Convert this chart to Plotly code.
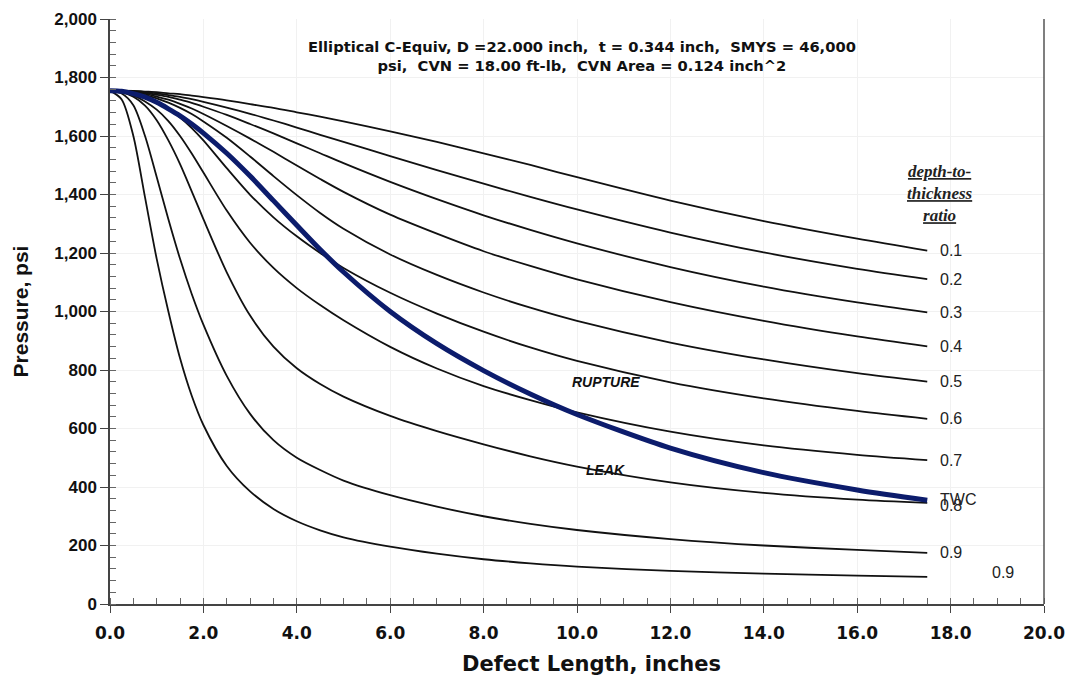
import plotly.graph_objects as go

# ---------------- data ----------------
defect_length = [0, 0.25, 0.5, 0.75, 1, 1.25, 1.5, 1.75, 2, 2.5, 3, 3.5, 4, 4.5, 5, 6, 7, 8, 9, 10, 12, 14, 16, 17.5]

ratio_labels = ["0.1", "0.2", "0.3", "0.4", "0.5", "0.6", "0.7", "0.8", "0.9", "0.9"]

p_01 = [1755, 1755, 1754, 1752, 1750, 1746, 1743, 1738, 1733, 1722, 1709, 1696, 1681, 1666, 1650, 1616, 1580, 1541, 1501, 1459, 1379, 1309, 1249, 1208]
p_02 = [1755, 1754, 1753, 1750, 1746, 1740, 1734, 1726, 1717, 1697, 1676, 1653, 1629, 1604, 1580, 1531, 1483, 1437, 1392, 1349, 1270, 1202, 1146, 1111]
p_03 = [1755, 1754, 1752, 1747, 1741, 1734, 1724, 1713, 1700, 1672, 1641, 1609, 1575, 1541, 1507, 1443, 1384, 1329, 1279, 1233, 1152, 1085, 1031, 997]
p_04 = [1755, 1754, 1750, 1744, 1735, 1724, 1710, 1694, 1675, 1634, 1591, 1546, 1499, 1453, 1409, 1331, 1266, 1206, 1156, 1110, 1032, 968, 915, 881]
p_05 = [1755, 1753, 1748, 1740, 1729, 1714, 1696, 1675, 1650, 1594, 1530, 1463, 1398, 1337, 1283, 1195, 1125, 1065, 1013, 968, 894, 836, 789, 760]
p_06 = [1755, 1753, 1745, 1733, 1715, 1692, 1663, 1627, 1585, 1490, 1399, 1322, 1257, 1200, 1149, 1064, 993, 931, 877, 831, 758, 703, 660, 633]
p_07 = [1755, 1751, 1739, 1718, 1690, 1651, 1600, 1540, 1475, 1345, 1235, 1149, 1080, 1022, 970, 879, 805, 745, 697, 655, 589, 542, 510, 492]
p_08 = [1755, 1750, 1734, 1704, 1654, 1585, 1504, 1411, 1316, 1134, 986, 880, 806, 752, 709, 643, 591, 546, 505, 470, 416, 380, 357, 346]
p_09 = [1755, 1745, 1705, 1600, 1460, 1315, 1180, 1060, 955, 780, 650, 560, 500, 458, 422, 372, 333, 300, 274, 253, 222, 200, 185, 175]
p_095 = [1755, 1725, 1600, 1390, 1180, 1000, 840, 712, 612, 472, 385, 325, 283, 252, 228, 196, 172, 153, 139, 128, 113, 104, 97, 93]

p_twc = [1755, 1753, 1745, 1733, 1715, 1693, 1669, 1641, 1610, 1541, 1463, 1379, 1295, 1212, 1135, 1000, 890, 798, 718, 648, 533, 449, 390, 355]

thin_series = [p_01, p_02, p_03, p_04, p_05, p_06, p_07, p_08, p_09, p_095]

x_ticks = [0, 2, 4, 6, 8, 10, 12, 14, 16, 18, 20]
y_ticks = [0, 200, 400, 600, 800, 1000, 1200, 1400, 1600, 1800, 2000]

title_text = ("Elliptical C-Equiv, D =22.000 inch,  t = 0.344 inch,  SMYS = 46,000<br>"
              "psi,  CVN = 18.00 ft-lb,  CVN Area = 0.124 inch^2")

# ---------------- figure ----------------
fig = go.Figure()

for ys, lab in zip(thin_series, ratio_labels):
    fig.add_trace(go.Scatter(
        x=defect_length, y=ys, mode="lines", name=lab,
        line=dict(color="#111111", width=1.8, shape="spline", smoothing=0.8),
        showlegend=False))

fig.add_trace(go.Scatter(
    x=defect_length, y=p_twc, mode="lines", name="TWC",
    line=dict(color="#0c1c6c", width=5, shape="spline", smoothing=0.8),
    showlegend=False))

label_font = dict(family="Liberation Sans, Arial, sans-serif", size=16, color="#222222")

# end-of-line labels
for i, (ys, lab) in enumerate(zip(thin_series, ratio_labels)):
    if i == len(thin_series) - 1:
        fig.add_annotation(x=18.85, y=ys[-1] + 14, text=lab, showarrow=False,
                           xanchor="left", yanchor="middle", font=label_font)
    else:
        fig.add_annotation(x=17.72, y=ys[-1] - (10 if lab == "0.8" else 0), text=lab,
                           showarrow=False, xanchor="left", yanchor="middle", font=label_font)

fig.add_annotation(x=17.72, y=p_twc[-1] + 2, text="TWC", showarrow=False,
                   xanchor="left", yanchor="middle", font=label_font)

# header of labels
fig.add_annotation(x=17.77, y=1404, text="depth-to-<br>thickness<br>ratio", showarrow=False,
                   xanchor="center", yanchor="middle", align="center",
                   font=dict(family="Liberation Serif, Times New Roman, serif", size=17,
                             color="#222222", style="italic", weight="bold",
                             lineposition="under"))

fig.add_annotation(x=10.62, y=759, text="<b><i>RUPTURE</i></b>", showarrow=False,
                   font=dict(family="Liberation Sans, Arial, sans-serif", size=14, color="#111111"))
fig.add_annotation(x=10.62, y=458, text="<b><i>LEAK</i></b>", showarrow=False,
                   font=dict(family="Liberation Sans, Arial, sans-serif", size=14, color="#111111"))

fig.add_annotation(xref="paper", yref="paper", x=0.505, y=0.936, text=title_text,
                   showarrow=False, align="center", xanchor="center", yanchor="middle",
                   font=dict(family="DejaVu Sans, sans-serif",
                             size=14.7, color="#111111", weight="bold"))

# x axis title placed as in the reference (slightly right of centre)
fig.add_annotation(xref="paper", yref="paper", x=0.515, y=-0.102, text="Defect Length, inches",
                   showarrow=False, xanchor="center", yanchor="middle",
                   font=dict(family="DejaVu Sans, sans-serif", size=21,
                             color="#111111", weight="bold"))

# right border of plot area
fig.add_shape(type="line", xref="paper", yref="paper", x0=1, x1=1, y0=0, y1=1,
              line=dict(color="#555555", width=1.5))

fig.update_layout(
    width=1068, height=677,
    margin=dict(l=110, r=24, t=19, b=73, autoexpand=False),
    paper_bgcolor="white", plot_bgcolor="white",
)

fig.update_xaxes(
    range=[0, 20], tickvals=x_ticks, ticktext=[f"{v:.1f}" for v in x_ticks],
    ticks="outside", ticklen=7, tickwidth=1.2, tickcolor="#444444",
    showline=True, linecolor="#444444", linewidth=1.5, automargin=False,
    showgrid=True, gridcolor="#f1f1f1", gridwidth=1, zeroline=False,
    minor=dict(dtick=0.5, ticks="inside", ticklen=6, tickcolor="#666666", showgrid=False),
    tickfont=dict(family="DejaVu Sans, sans-serif", size=17,
                  color="#111111", weight="bold"),
    ticklabelstandoff=6,
)

fig.update_yaxes(
    range=[0, 2000], tickvals=y_ticks, ticktext=[f"{v:,}" for v in y_ticks],
    ticks="outside", ticklen=8, tickwidth=1.2, tickcolor="#444444",
    showline=True, linecolor="#444444", linewidth=1.5, automargin=False,
    showgrid=True, gridcolor="#f1f1f1", gridwidth=1, zeroline=False,
    minor=dict(dtick=40, ticks="inside", ticklen=6, tickcolor="#666666", showgrid=False),
    tickfont=dict(family="Liberation Sans, Arial, sans-serif", size=17,
                  color="#111111", weight="bold"),
    title=dict(text="Pressure, psi", standoff=20,
               font=dict(family="Liberation Sans, Arial, sans-serif", size=21,
                         color="#111111", weight="bold")),
)

fig.write_html("out.html")
